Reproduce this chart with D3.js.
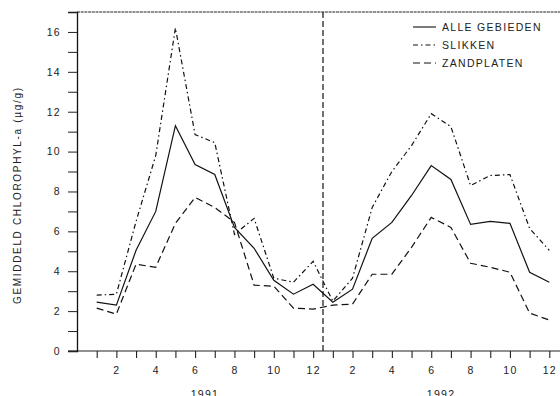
<!DOCTYPE html>
<html>
<head>
  <style>
  body { margin: 0; background: #fff; }
  svg { font-family: "Liberation Sans", Arial, sans-serif; }
  </style>
</head>
<body>
  <script src="https://d3js.org/d3.v7.min.js"></script>
  <div id="chart"></div>
  <script>
    // months 1..24 (jan 1991 .. dec 1992)
    var months = d3.range(1, 25);
    var monthLabels = months.map(function(m) { var k = (m - 1) % 12 + 1; return k % 2 === 0 ? String(k) : ''; });
    var years = ['1991', '1992'];
    var yTicks = [0, 2, 4, 6, 8, 10, 12, 14, 16];

    var alleGebieden = [2.45, 2.3, 5.05, 7.0, 11.3, 9.35, 8.85, 6.2, 5.15, 3.55, 2.85, 3.35,
                        2.45, 3.1, 5.65, 6.45, 7.8, 9.3, 8.6, 6.35, 6.5, 6.4, 3.95, 3.45];
    var slikken = [2.8, 2.85, 6.5, 9.8, 16.2, 10.85, 10.45, 5.85, 6.65, 3.65, 3.45, 4.5,
                   2.5, 3.65, 7.2, 9.0, 10.3, 11.9, 11.25, 8.3, 8.8, 8.85, 6.15, 5.05];
    var zandplaten = [2.15, 1.85, 4.35, 4.2, 6.4, 7.7, 7.2, 6.45, 3.3, 3.25, 2.15, 2.1,
                      2.3, 2.35, 3.85, 3.85, 5.2, 6.7, 6.2, 4.4, 4.2, 3.95, 1.9, 1.55];

    var series = [
      {name: 'ALLE GEBIEDEN', values: alleGebieden, dash: null},
      {name: 'SLIKKEN', values: slikken, dash: '5,3,1.5,3'},
      {name: 'ZANDPLATEN', values: zandplaten, dash: '7,4'}
    ];

    var width = 560, height = 396;
    var plotLeft = 77, plotTop = 12, plotBottom = 351;
    var font = '"Liberation Sans", Arial, sans-serif';

    var svg = d3.select('#chart').append('svg')
      .attr('width', width)
      .attr('height', height);

    var x = d3.scaleLinear().domain([1, 24]).range([96.7, 549.3]);
    var y = d3.scaleLinear().domain([0, 17]).range([plotBottom, plotTop]);

    // frame: top line and x axis line
    svg.append('line').attr('x1', plotLeft).attr('x2', width).attr('y1', plotTop).attr('y2', plotTop)
      .attr('stroke', '#222').attr('stroke-width', 1).attr('stroke-dasharray', '3,0.7');
    svg.append('line').attr('x1', 68).attr('x2', width).attr('y1', plotBottom).attr('y2', plotBottom)
      .attr('stroke', '#222').attr('stroke-width', 1.2);

    // y axis
    var yAxis = d3.axisLeft(y).tickValues(d3.range(0, 18)).tickSize(9).tickPadding(7)
      .tickFormat(function(d) { return yTicks.indexOf(d) >= 0 ? d : ''; });
    var gy = svg.append('g').attr('transform', 'translate(' + plotLeft + ',0)').call(yAxis);
    gy.select('.domain').attr('stroke', '#111').attr('stroke-width', 1.3);
    gy.selectAll('.tick line').attr('stroke', '#222');
    gy.selectAll('text').attr('font-size', 10.5).attr('letter-spacing', 1.3)
      .attr('fill', '#222').attr('font-family', font);

    // x axis
    var xAxis = d3.axisBottom(x).tickValues(months).tickSize(7).tickPadding(9)
      .tickFormat(function(d, i) { return monthLabels[i]; });
    var gx = svg.append('g').attr('transform', 'translate(0,' + plotBottom + ')').call(xAxis);
    gx.select('.domain').remove();
    gx.selectAll('.tick line').attr('stroke', '#222').attr('stroke-width', 1.1);
    gx.selectAll('text').attr('font-size', 10.5).attr('letter-spacing', 1.3)
      .attr('fill', '#222').attr('font-family', font);

    // year labels
    svg.selectAll('text.year').data(years).enter().append('text')
      .attr('class', 'year')
      .attr('x', function(d, i) { return x(6.5 + i * 12); })
      .attr('y', 398)
      .attr('text-anchor', 'middle')
      .attr('font-size', 10.5)
      .attr('letter-spacing', 1.3)
      .attr('fill', '#222')
      .text(function(d) { return d; });

    // y label
    svg.append('text')
      .attr('transform', 'translate(21,196) rotate(-90)')
      .attr('text-anchor', 'middle')
      .attr('font-size', 10)
      .attr('fill', '#222')
      .attr('textLength', 216)
      .attr('lengthAdjust', 'spacing')
      .text('GEMIDDELD  CHLOROPHYL-a  (\u00b5g/g)');

    // year separator
    svg.append('line')
      .attr('x1', x(12.5)).attr('x2', x(12.5))
      .attr('y1', plotTop).attr('y2', plotBottom)
      .attr('stroke', '#111').attr('stroke-width', 1.2)
      .attr('stroke-dasharray', '6,3');

    // lines
    var line = d3.line()
      .x(function(d, i) { return x(months[i]); })
      .y(function(d) { return y(d); });

    svg.selectAll('path.series').data(series).enter().append('path')
      .attr('class', 'series')
      .attr('d', function(d) { return line(d.values); })
      .attr('fill', 'none')
      .attr('stroke', '#111')
      .attr('stroke-width', 1.2)
      .attr('stroke-dasharray', function(d) { return d.dash; });

    // legend
    var legend = svg.append('g').attr('class', 'legend');
    var rows = legend.selectAll('g').data(series).enter().append('g')
      .attr('transform', function(d, i) { return 'translate(413,' + (27 + i * 18) + ')'; });
    rows.append('line')
      .attr('x1', 0).attr('x2', 23).attr('y1', 0).attr('y2', 0)
      .attr('stroke', '#111').attr('stroke-width', 1.1)
      .attr('stroke-dasharray', function(d) { return d.dash; });
    rows.append('text')
      .attr('x', 29).attr('y', 3.8)
      .attr('font-size', 10.5)
      .attr('letter-spacing', 1.3)
      .attr('fill', '#222')
      .text(function(d) { return d.name; });
  </script>
</body>
</html>
